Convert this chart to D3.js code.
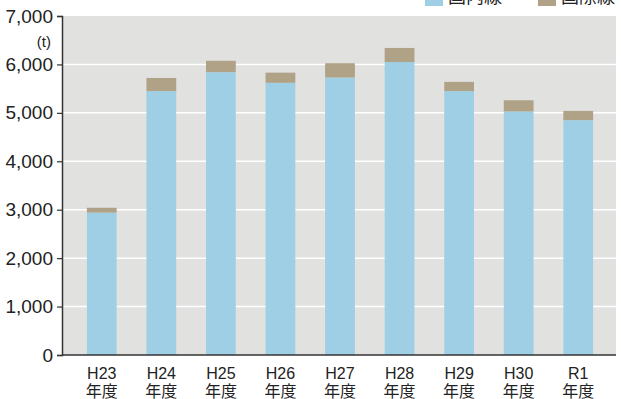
<!DOCTYPE html>
<html>
<head>
<meta charset="utf-8">
<script src="https://cdn.jsdelivr.net/npm/d3@7"></script>
<style>
  body { margin: 0; background: #fff; }
  svg text { font-family: "Liberation Sans", "Noto Sans CJK JP", sans-serif; fill: #222; }
</style>
</head>
<body>
<svg id="chart" width="621" height="399"></svg>
<script>
// fiscal years and tonnage (t)
var years = ["H23", "H24", "H25", "H26", "H27", "H28", "H29", "H30", "R1"];
var domestic = [2940, 5450, 5840, 5620, 5730, 6050, 5450, 5030, 4850];
var international = [100, 270, 235, 210, 295, 290, 190, 230, 190];
var yTicks = [0, 1000, 2000, 3000, 4000, 5000, 6000, 7000];
var seriesNames = ["国内線", "国際線"];
var colors = ["#9fcfe4", "#b0a286"];

var svg = d3.select("#chart");
var plotLeft = 62, plotRight = 616, plotTop = 16, plotBottom = 355;

var x = d3.scaleBand().domain(years).range([72, 608]).paddingInner(0.5).paddingOuter(0.25);
var y = d3.scaleLinear().domain([0, 7000]).range([plotBottom, plotTop]);

// plot background
svg.append("rect")
    .attr("x", plotLeft).attr("y", plotTop)
    .attr("width", plotRight - plotLeft).attr("height", plotBottom - plotTop)
    .attr("fill", "#e1e1e0");

// grid lines
svg.append("g").selectAll("line")
    .data(yTicks.filter(d => d > 0 && d < 7000))
    .join("line")
    .attr("x1", plotLeft).attr("x2", plotRight)
    .attr("y1", d => y(d)).attr("y2", d => y(d))
    .attr("stroke", "#fff").attr("stroke-width", 1.5);

// stacked bars
var rows = years.map((yr, i) => ({year: yr, domestic: domestic[i], international: international[i]}));
var stack = d3.stack().keys(["domestic", "international"])(rows);

svg.append("g").selectAll("g")
    .data(stack)
    .join("g")
    .attr("fill", (d, i) => colors[i])
    .selectAll("rect")
    .data(d => d)
    .join("rect")
    .attr("x", d => x(d.data.year))
    .attr("width", x.bandwidth())
    .attr("y", d => y(d[1]))
    .attr("height", d => y(d[0]) - y(d[1]));

// y axis
var yAxis = svg.append("g")
    .attr("transform", "translate(" + plotLeft + ",0)")
    .call(d3.axisLeft(y).tickValues(yTicks).tickSize(5).tickPadding(4).tickFormat(d3.format(",")));
yAxis.select(".domain").attr("stroke", "#333").attr("stroke-width", 1.5);
yAxis.selectAll(".tick line").attr("stroke", "#333").attr("stroke-width", 1.2);
yAxis.selectAll("text").attr("font-size", 19).style("font-family", "Liberation Sans, sans-serif").attr("fill", "#222");

svg.append("text")
    .attr("x", 51).attr("y", 47)
    .attr("text-anchor", "end")
    .attr("font-size", 15)
    .text("(t)");

// x axis baseline
svg.append("line")
    .attr("x1", plotLeft).attr("x2", plotRight)
    .attr("y1", plotBottom).attr("y2", plotBottom)
    .attr("stroke", "#333").attr("stroke-width", 1.5);

// x labels
var xl = svg.append("g").selectAll("text")
    .data(years)
    .join("text")
    .attr("text-anchor", "middle")
    .attr("font-size", 16);
xl.append("tspan")
    .attr("x", d => x(d) + x.bandwidth() / 2).attr("y", 379)
    .text(d => d);
xl.append("tspan")
    .attr("x", d => x(d) + x.bandwidth() / 2).attr("y", 397)
    .text("年度");

// legend (cut off at top of the picture)
var legend = svg.append("g").selectAll("g")
    .data(seriesNames)
    .join("g")
    .attr("transform", (d, i) => "translate(" + (425 + i * 113) + ",0)");
legend.append("rect")
    .attr("x", 0).attr("y", -8)
    .attr("width", 18).attr("height", 14)
    .attr("fill", (d, i) => colors[i]);
legend.append("text")
    .attr("x", 23).attr("y", 3)
    .attr("font-size", 18)
    .text(d => d);
</script>
</body>
</html>
